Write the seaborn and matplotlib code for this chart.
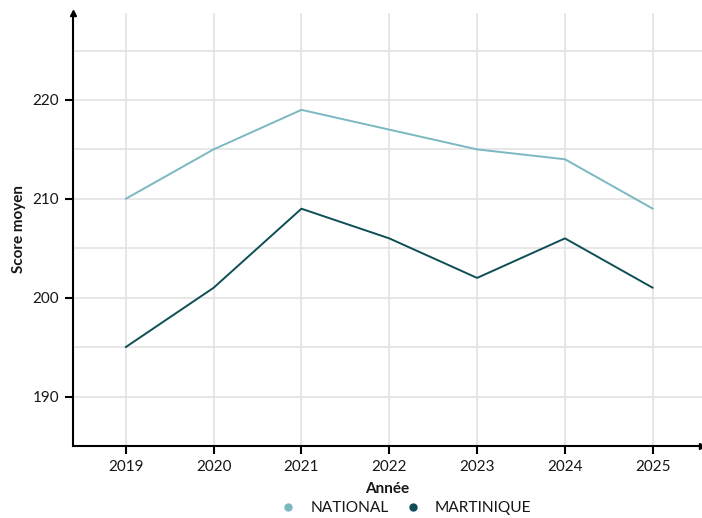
import matplotlib
matplotlib.use("Agg")
import matplotlib.pyplot as plt
import seaborn as sns
import pandas as pd
from matplotlib.lines import Line2D
from matplotlib.ticker import MultipleLocator

years = [2019, 2020, 2021, 2022, 2023, 2024, 2025]
national = [210, 215, 219, 217, 215, 214, 209]
martinique = [195, 201, 209, 206, 202, 206, 201]
series_names = ["NATIONAL", "MARTINIQUE"]
palette = {"NATIONAL": "#7bb8c1", "MARTINIQUE": "#0d4f55"}

df = pd.DataFrame({
    "Année": years * 2,
    "Score moyen": national + martinique,
    "Série": [series_names[0]] * len(years) + [series_names[1]] * len(years),
})

sns.set_theme(style="white")
plt.rcParams["font.family"] = ["Lato", "DejaVu Sans"]

fig = plt.figure(figsize=(7.02, 5.18), dpi=100)
ax = fig.add_axes([0.104, 0.139, 0.896, 0.836])

sns.lineplot(data=df, x="Année", y="Score moyen", hue="Série", palette=palette,
             linewidth=1.4, ax=ax, legend=False)

ax.set_xlim(2018.4, 2025.56)
ax.set_ylim(185, 228.8)
ax.set_xticks(years)
ax.set_xticklabels([str(y) for y in years])
ax.yaxis.set_major_locator(MultipleLocator(10))
ax.yaxis.set_minor_locator(MultipleLocator(5))
ax.grid(True, which="major", axis="both", color="#e3e3e3", linewidth=1.2)
ax.grid(True, which="minor", axis="y", color="#e3e3e3", linewidth=1.2)
ax.set_axisbelow(True)

for s in ["top", "right"]:
    ax.spines[s].set_visible(False)
for s in ["left", "bottom"]:
    ax.spines[s].set_color("black")
    ax.spines[s].set_linewidth(1.5)

ax.tick_params(axis="both", which="major", length=6, width=1.5, color="black",
               labelsize=11, labelcolor="#161616", pad=4, direction="out",
               bottom=True, left=True)
ax.tick_params(axis="y", which="minor", length=0)

# arrow heads on the axes
ax.plot(1, 0, marker=">", color="black", markersize=5, transform=ax.transAxes, clip_on=False)
ax.plot(0, 1, marker="^", color="black", markersize=5, transform=ax.transAxes, clip_on=False)

ax.set_xlabel("Année", fontsize=11, fontweight="bold", labelpad=6, color="#161616")
ax.set_ylabel("Score moyen", fontsize=11, fontweight="bold", labelpad=5, color="#161616")

handles = [Line2D([0], [0], marker="o", linestyle="", markersize=5,
                  markerfacecolor=palette[n], markeredgecolor=palette[n]) for n in series_names]
fig.legend(handles, series_names, loc="center", bbox_to_anchor=(0.573, 0.019), ncol=2,
           frameon=False, fontsize=11.2, handletextpad=0.4, columnspacing=0.6,
           labelcolor="#161616")

fig.savefig("out.png", dpi=100)
